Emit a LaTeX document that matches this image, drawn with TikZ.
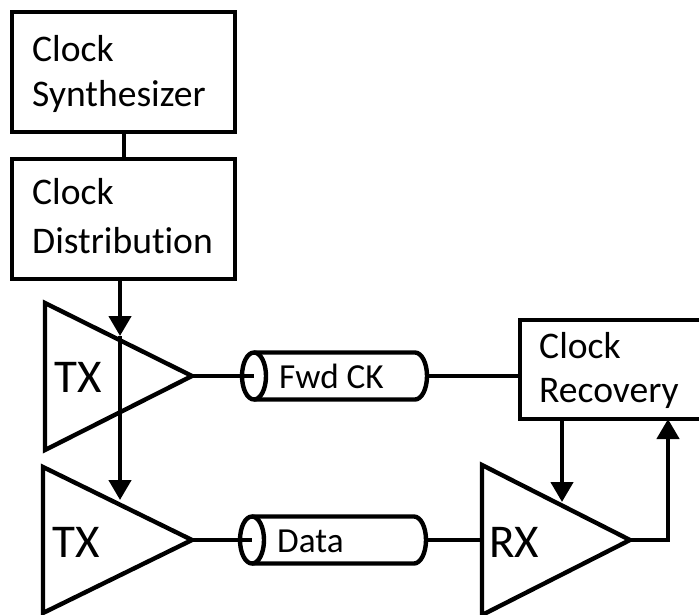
\documentclass[tikz,border=0pt]{standalone}
\usepackage{fontspec}
\setmainfont{Carlito}[Ligatures={NoCommon}]
\usetikzlibrary{arrows.meta}
\begin{document}
\begin{tikzpicture}[x=0.5pt,y=-0.5pt, line width=2.2pt,
  box/.style={draw, rectangle, inner sep=0pt, anchor=north west, minimum width=#1},
  lbl/.style={anchor=base west, inner sep=0pt, font=\fontsize{18.8}{22}\selectfont},
  biglbl/.style={anchor=base west, inner sep=0pt, font=\fontsize{23.5}{28}\selectfont},
  cyllbl/.style={anchor=base west, inner sep=0pt, font=\fontsize{17.6}{21}\selectfont},
  arr/.style={-{Triangle[width=11pt,length=10pt]}}]
\useasboundingbox (0,0) rectangle (699,614);

% boxes
\node[box=111.5pt, minimum height=60pt] (synth) at (10,10) {};
\node[box=111.5pt, minimum height=60pt] (dist) at (10,157) {};
\node[box=110pt, minimum height=49.5pt] (rec) at (518,318) {};
\node[lbl] (synthA) at (30,62) {Clock};
\node[lbl] (synthB) at (30,107) {Synthesizer};
\node[lbl] (distA) at (30,205) {Clock};
\node[lbl] (distB) at (30,253) {Distribution};
\node[lbl] (recA) at (537,358) {Clock};
\node[lbl] (recB) at (537,402) {Recovery};

% triangles
\coordinate (t1a) at (45,303); \coordinate (t1b) at (45,450); \coordinate (t1o) at (192,376);
\coordinate (t2a) at (43,467); \coordinate (t2b) at (43,613); \coordinate (t2o) at (192,540);
\coordinate (rxa) at (482,465); \coordinate (rxb) at (482,615); \coordinate (rxo) at (630,540);
\draw (t1a) -- (t1b) -- (t1o) -- cycle;
\draw (t2a) -- (t2b) -- (t2o) -- cycle;
\draw (rxa) -- (rxb) -- (rxo) -- cycle;
\node[biglbl] (tx1) at (52,392) {TX};
\node[biglbl] (tx2) at (50,557) {TX};
\node[biglbl] (rx) at (487,557) {RX};

% cylinders
\coordinate (fwdL) at (254,376); \coordinate (fwdR) at (427,376);
\draw (254,352.5) -- (415,352.5) arc[start angle=90, end angle=-90, x radius=6pt, y radius=11.75pt] -- (254,399.5);
\draw (fwdL) ellipse [x radius=6pt, y radius=11.75pt];
\node[cyllbl] (fwd) at (277,388) {Fwd CK};
\coordinate (datL) at (252,540); \coordinate (datR) at (426,540);
\draw (252,516.5) -- (414,516.5) arc[start angle=90, end angle=-90, x radius=6pt, y radius=11.75pt] -- (252,563.5);
\draw (datL) ellipse [x radius=6pt, y radius=11.75pt];
\node[cyllbl] (dat) at (275,552) {Data};

% connectors
\draw (synth) -- (dist);
\draw[arr] (dist.south -| 120,0) -- (120,336) coordinate (m1);
\draw[arr] (m1) -- (120,500);
\draw (t1o) -- (fwdL);
\draw (fwdR) -- (rec.west |- fwdR);
\draw (t2o) -- (datL);
\draw (datR) -- (rxa |- datR);
\coordinate (recS) at (562,417);
\draw[arr] (recS) -- (562,502);
\coordinate (recIn) at (668,419);
\draw[arr] (rxo) -- (668,540) -- (recIn);
\end{tikzpicture}
\end{document}
